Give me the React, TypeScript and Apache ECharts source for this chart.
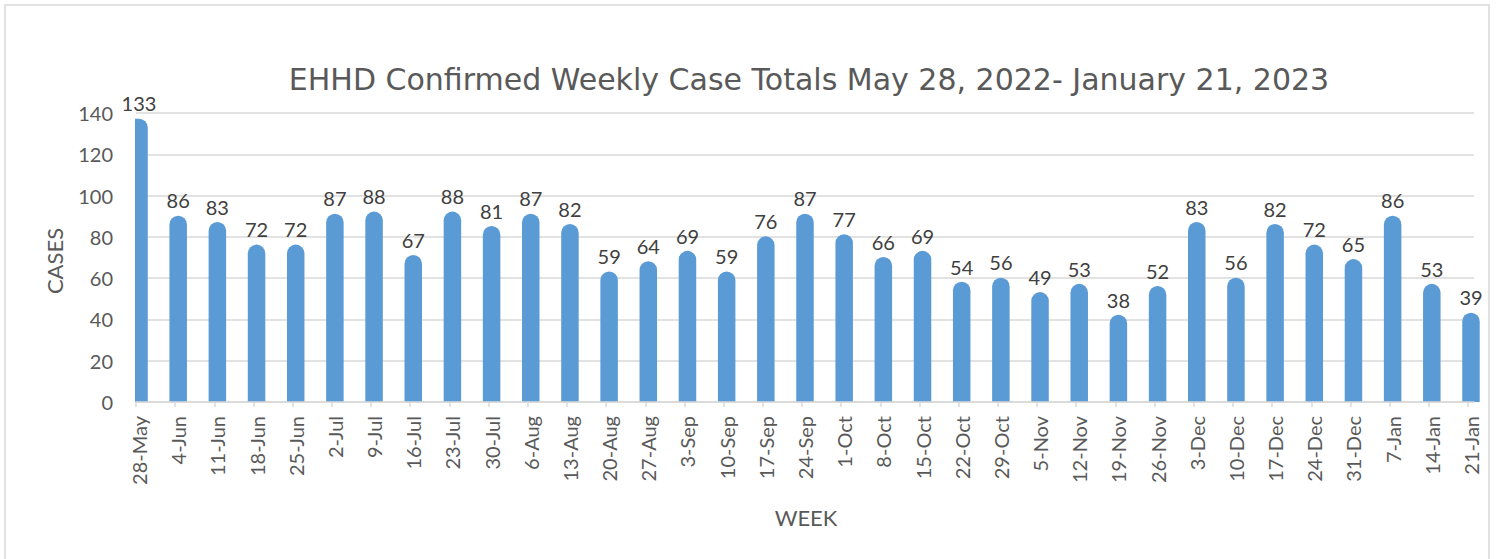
import React, { useEffect, useRef } from "react";
import * as echarts from "echarts";

const categories = [
  "28-May", "4-Jun", "11-Jun", "18-Jun", "25-Jun", "2-Jul", "9-Jul", "16-Jul", "23-Jul", "30-Jul",
  "6-Aug", "13-Aug", "20-Aug", "27-Aug", "3-Sep", "10-Sep", "17-Sep", "24-Sep", "1-Oct", "8-Oct",
  "15-Oct", "22-Oct", "29-Oct", "5-Nov", "12-Nov", "19-Nov", "26-Nov", "3-Dec", "10-Dec", "17-Dec",
  "24-Dec", "31-Dec", "7-Jan", "14-Jan", "21-Jan",
];
const cases = [
  133, 86, 83, 72, 72, 87, 88, 67, 88, 81,
  87, 82, 59, 64, 69, 59, 76, 87, 77, 66,
  69, 54, 56, 49, 53, 38, 52, 83, 56, 82,
  72, 65, 86, 53, 39,
];
const yTicks = [0, 20, 40, 60, 80, 100, 120, 140];
const titleText = "EHHD Confirmed Weekly Case Totals May 28, 2022- January 21, 2023";
const yName = "CASES";
const xName = "WEEK";

const FONT = "Lato, 'Open Sans', sans-serif";
const TITLE_FONT = "'DejaVu Sans', 'Open Sans', sans-serif";
const OFF = 0.077; // tick offset (in category units) relative to bar centres

export default function App() {
  const ref = useRef<HTMLDivElement>(null);
  useEffect(() => {
    if (!ref.current) return;
    const chart = echarts.init(ref.current, null, { renderer: "svg" });
    const idx = categories.map((_, i) => i);
    const data = cases.map((v, i) => [i, v]);
    chart.setOption({
      animation: false,
      backgroundColor: "#ffffff",
      textStyle: { fontFamily: FONT },
      grid: { left: 136, right: 22, top: 113, bottom: 157, containLabel: false },
      xAxis: {
        type: "value",
        min: -OFF,
        max: categories.length - 1 + OFF,
        z: 5,
        splitLine: { show: false },
        axisLine: { show: true, onZero: false, lineStyle: { color: "#d9d9d9", width: 1.5 } },
        axisTick: {
          show: true,
          length: 5,
          customValues: idx.map((i) => i - OFF),
          lineStyle: { color: "#d9d9d9", width: 1.5 },
        },
        axisLabel: {
          customValues: idx,
          rotate: 90,
          margin: 14,
          fontSize: 20,
          color: "#595959",
          fontFamily: FONT,
          formatter: (v: number) => categories[Math.round(v)] ?? "",
        },
      },
      yAxis: {
        type: "value",
        min: yTicks[0],
        max: yTicks[yTicks.length - 1],
        interval: yTicks[1] - yTicks[0],
        axisLine: { show: false },
        axisTick: { show: false },
        axisLabel: { margin: 23, fontSize: 20, color: "#595959", fontFamily: FONT },
        splitLine: { lineStyle: { color: "#d9d9d9", width: 1.5 } },
      },
      graphic: [
        {
          type: "rect",
          shape: { x: 5, y: 5, width: 1484, height: 580 },
          style: { fill: "none", stroke: "#d9d9d9", lineWidth: 1.5 },
          silent: true,
        },
        {
          type: "text",
          x: 809,
          y: 79,
          style: {
            text: titleText,
            align: "center",
            verticalAlign: "middle",
            fontSize: 30,
            fill: "#595959",
            fontFamily: TITLE_FONT,
          },
        },
        {
          type: "text",
          x: 54,
          y: 261,
          rotation: Math.PI / 2,
          style: {
            text: yName,
            align: "center",
            verticalAlign: "middle",
            fontSize: 22,
            fill: "#595959",
            fontFamily: FONT,
          },
        },
        {
          type: "text",
          x: 806,
          y: 517,
          style: {
            text: xName,
            align: "center",
            verticalAlign: "middle",
            fontSize: 22,
            fill: "#595959",
            fontFamily: FONT,
          },
        },
      ],
      series: [
        {
          type: "custom",
          z: 2,
          data,
          renderItem: (params: any, api: any) => {
            const i = api.value(0);
            const v = api.value(1);
            const [x, y] = api.coord([i, v]);
            const [, y0] = api.coord([i, 0]);
            const cs = params.coordSys;
            const w = 17.5;
            const r = w / 2;
            let x0 = x - r;
            const x1 = x + r;
            let rl = r;
            if (x0 < cs.x - 1) {
              x0 = cs.x - 1;
              rl = 0;
            }
            return {
              type: "group",
              children: [
                {
                  type: "rect",
                  shape: { x: x0, y: y - r, width: x1 - x0, height: y0 - (y - r), r: [rl, r, 0, 0] },
                  style: { fill: "#5b9bd5" },
                },
                {
                  type: "text",
                  x: x,
                  y: y - 14,
                  style: {
                    text: String(v),
                    align: "center",
                    verticalAlign: "bottom",
                    fontSize: 20,
                    fill: "#404040",
                    fontFamily: FONT,
                  },
                },
              ],
            };
          },
        },
      ],
    });
    return () => chart.dispose();
  }, []);
  return (
    <div
      ref={ref}
      style={{ position: "fixed", left: 0, top: 0, width: 1496, height: 559, background: "#fff" }}
    />
  );
}
